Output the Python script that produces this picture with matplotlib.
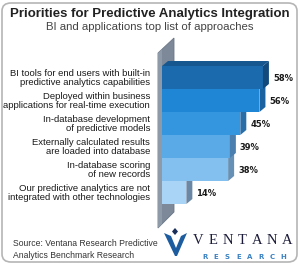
import matplotlib
matplotlib.use("Agg")
import matplotlib.pyplot as plt
from matplotlib.patches import Polygon, FancyBboxPatch

categories = [
    "BI tools for end users with built-in\npredictive analytics capabilities",
    "Deployed within business\napplications for real-time execution",
    "In-database development\nof predictive models",
    "Externally calculated results\nare loaded into database",
    "In-database scoring\nof new records",
    "Our predictive analytics are not\nintegrated with other technologies",
]
values = [58, 56, 45, 39, 38, 14]
value_labels = ["58%", "56%", "45%", "39%", "38%", "14%"]
front_colors = ["#1b6aae", "#1f86d6", "#3496df", "#5aaae8", "#83c0ef", "#a9d4f5"]
side_colors = ["#124a7c", "#1a63a0", "#2a6ea8", "#4a7fb0", "#6690b5", "#6a88a6"]
top_colors = ["#17578f", "#1c72b8", "#2b80c4", "#4c94cf", "#6ea8d6", "#8fbde0"]

W, H = 300, 264
fig = plt.figure(figsize=(W / 100, H / 100), dpi=100)
fig.patch.set_facecolor("white")

# rounded frame
frame = FancyBboxPatch((2 / W, 2 / H), (W - 5) / W, (H - 5) / H,
                       boxstyle="round,pad=0,rounding_size=0.03",
                       transform=fig.transFigure, facecolor="none",
                       edgecolor="#b5b5b5", linewidth=1.2, zorder=0)
fig.patches.append(frame)

# axes mapped so that x: 1% = 1.74 px starting at px 162; y: bar pitch 23 px
ax = fig.add_axes([0, 0, 1, 1])
ax.set_axis_off()
ax.patch.set_visible(False)
px_per = 1.74
x0 = 162
ax.set_xlim(-x0 / px_per, (W - x0) / px_per)
yc0 = 77.5
pitch = 23.0
ax.set_ylim((H - yc0) / pitch, -yc0 / pitch)

def px2data(px, py):
    return (px - x0) / px_per, (py - yc0) / pitch

# gray wall behind bars
wall_pts = [px2data(158, 53), px2data(174, 38), px2data(174, 212), px2data(158, 228)]
ax.add_patch(Polygon(wall_pts, closed=True, facecolor="#7d8999",
                     edgecolor="#6a7585", linewidth=0.6, zorder=1))
edge_pts = [px2data(158, 53), px2data(162, 49), px2data(162, 224), px2data(158, 228)]
ax.add_patch(Polygon(edge_pts, closed=True, facecolor="#8f9aa9",
                     edgecolor="none", zorder=1))

dx = 6 / px_per
dy = -5 / pitch
h = 1.0
n = len(values)
for i in reversed(range(n)):
    v = values[i]
    z = 2 + (n - i)
    top = i - h / 2
    bot = i + h / 2
    ax.barh(i, v, height=h, left=0, color=front_colors[i], edgecolor="none", zorder=z)
    ax.add_patch(Polygon([(v, top), (v + dx, top + dy), (v + dx, bot + dy), (v, bot)],
                         closed=True, facecolor=side_colors[i], edgecolor="none", zorder=z))
    ax.add_patch(Polygon([(0, top), (dx, top + dy), (v + dx, top + dy), (v, top)],
                         closed=True, facecolor=top_colors[i], edgecolor="none", zorder=z))
    ax.text(v + dx + 4 / px_per, i + 0.05, value_labels[i], ha="left", va="center",
            fontsize=6.0, fontweight="bold", color="#1a1a1a", zorder=20)
    ax.text(-12 / px_per, i + 0.02, categories[i], ha="right", va="center",
            multialignment="right", fontsize=6.8, family="Liberation Sans",
            color="#1a1a1a", linespacing=1.1, zorder=20)

# titles
fig.text(0.5, 1 - 14 / H, "Priorities for Predictive Analytics Integration",
         ha="center", va="center", fontsize=9.5, fontweight="bold",
         family="Liberation Sans", color="#222222")
fig.text(0.5, 1 - 27.5 / H, "BI and applications top list of approaches",
         ha="center", va="center", fontsize=8.2, family="Liberation Sans",
         color="#444444")

# source
fig.text(13 / W, 1 - 244 / H, "Source: Ventana Research Predictive",
         ha="left", va="center", fontsize=6.2, family="Liberation Sans",
         color="#333333")
fig.text(13 / W, 1 - 256 / H, "Analytics Benchmark Research",
         ha="left", va="center", fontsize=6.2, family="Liberation Sans",
         color="#333333")

# logo
def fpx(px, py):
    return px / W, 1 - py / H
vmark = Polygon([fpx(164, 233), fpx(171, 236), fpx(176, 248), fpx(181, 236),
                 fpx(187, 233), fpx(177, 256), fpx(175, 256)],
                closed=True, transform=fig.transFigure, facecolor="#1d5c9e",
                edgecolor="none")
fig.patches.append(vmark)
diamond = Polygon([fpx(175, 228), fpx(178, 231.5), fpx(175, 235), fpx(172, 231.5)],
                  closed=True, transform=fig.transFigure, facecolor="#1a2f5a",
                  edgecolor="none")
fig.patches.append(diamond)
for k, ch in enumerate("VENTANA"):
    fig.text((198 + k * 14.8) / W, 1 - 240.5 / H, ch, ha="center", va="center",
             fontsize=10.5, family="Liberation Serif", color="#1c1c3a")
for k, ch in enumerate("RESEARCH"):
    fig.text((205 + k * 11.2) / W, 1 - 257 / H, ch, ha="center", va="center",
             fontsize=5.0, fontweight="bold", color="#3b82c4")

fig.savefig("out.png", dpi=100)
